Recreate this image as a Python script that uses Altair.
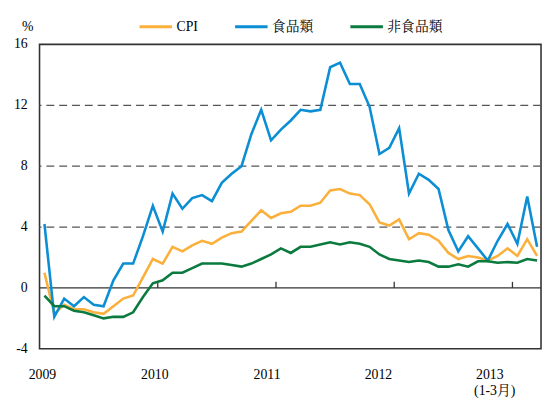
import altair as alt
import pandas as pd

# Monthly observations, Jan 2009 (index 0) .. Mar 2013 (index 50)
months = list(range(51))
series_names = ["CPI", "食品類", "非食品類"]

cpi = [1.0, -1.7, -1.1, -1.4, -1.4, -1.6, -1.7, -1.2, -0.7, -0.5,
       0.7, 1.9, 1.6, 2.7, 2.4, 2.8, 3.1, 2.9, 3.3, 3.6,
       3.7, 4.4, 5.1, 4.6, 4.9, 5.0, 5.4, 5.4, 5.6, 6.4,
       6.5, 6.2, 6.1, 5.5, 4.3, 4.1, 4.5, 3.2, 3.6, 3.5,
       3.1, 2.3, 1.9, 2.1, 2.0, 1.8, 2.1, 2.6, 2.1, 3.2, 2.1]
food = [4.2, -1.9, -0.7, -1.2, -0.6, -1.1, -1.2, 0.5, 1.6, 1.6,
        3.4, 5.4, 3.7, 6.2, 5.2, 5.9, 6.1, 5.7, 6.9, 7.5,
        8.0, 10.1, 11.7, 9.7, 10.4, 11.0, 11.7, 11.6, 11.7, 14.5,
        14.8, 13.4, 13.4, 11.9, 8.8, 9.2, 10.5, 6.2, 7.5, 7.1,
        6.5, 3.8, 2.4, 3.4, 2.6, 1.8, 3.1, 4.2, 2.9, 6.0, 2.7]
nonfood = [-0.5, -1.2, -1.2, -1.5, -1.6, -1.8, -2.0, -1.9, -1.9, -1.6,
           -0.6, 0.3, 0.5, 1.0, 1.0, 1.3, 1.6, 1.6, 1.6, 1.5,
           1.4, 1.6, 1.9, 2.2, 2.6, 2.3, 2.7, 2.7, 2.85, 3.0,
           2.85, 3.0, 2.9, 2.7, 2.2, 1.9, 1.8, 1.7, 1.8, 1.7,
           1.4, 1.4, 1.55, 1.4, 1.75, 1.75, 1.65, 1.7, 1.65, 1.9, 1.8]

colors = ["#FBB03B", "#0B8ED3", "#0A7A3E"]
y_ticks = [-4, 0, 4, 8, 12, 16]
y_tick_labels = ["-4", "0", "4", "8", "12", "16"]
grid_values = [4, 8, 12]
year_labels = ["2009", "2010", "2011", "2012", "2013"]
year_label_pos = [-0.2, 11.2, 22.6, 33.9, 45.2]
year_breaks = [11.5, 23.5, 35.5, 47.5]
note_label = ["(1-3月)"]
note_pos = [45.7]
unit_label = ["%"]

FONT = "Liberation Serif, 'Noto Serif CJK TC', 'Noto Sans CJK TC', serif"

df = pd.DataFrame({
    "month": months * 3,
    "value": cpi + food + nonfood,
    "series": [series_names[0]] * 51 + [series_names[1]] * 51 + [series_names[2]] * 51,
})

x_scale = alt.Scale(domain=[-0.5, 50.4], nice=False, zero=False)
y_scale = alt.Scale(domain=[-4, 16], nice=False, zero=False)

grid = alt.Chart(pd.DataFrame({"g": grid_values})).mark_rule(
    color="#555555", strokeWidth=1.3, strokeDash=[8, 5]
).encode(y=alt.Y("g:Q", scale=y_scale, axis=None))

zero = alt.Chart(pd.DataFrame({"z": [0]})).mark_rule(
    color="#333333", strokeWidth=1.3
).encode(y=alt.Y("z:Q", scale=y_scale, axis=None))

yticks = alt.Chart(pd.DataFrame({"b": year_breaks, "t0": [0] * 4, "t1": [0.4] * 4})).mark_rule(
    color="#333333", strokeWidth=1.3
).encode(
    x=alt.X("b:Q", scale=x_scale, axis=None),
    y=alt.Y("t0:Q", scale=y_scale, axis=None),
    y2="t1:Q",
)

lines = alt.Chart(df).mark_line(strokeWidth=2.6).encode(
    x=alt.X("month:Q", scale=x_scale, axis=None),
    y=alt.Y("value:Q", scale=y_scale, axis=None),
    color=alt.Color("series:N", scale=alt.Scale(domain=series_names, range=colors),
                    legend=alt.Legend(
                        orient="none", legendX=100, legendY=-36, direction="horizontal",
                        title=None, symbolType="stroke", symbolSize=1089,
                        symbolStrokeWidth=3, labelFont=FONT, labelFontSize=14,
                        labelColor="#000000", columnPadding=31, labelOffset=3,
                    )),
)

ylabels = alt.Chart(pd.DataFrame({"v": y_ticks, "label": y_tick_labels})).mark_text(
    font=FONT, fontSize=14, baseline="middle", align="right", color="#000000"
).encode(x=alt.value(-12), y=alt.Y("v:Q", scale=y_scale, axis=None), text="label:N")

unit = alt.Chart(pd.DataFrame({"label": unit_label})).mark_text(
    font=FONT, fontSize=14, baseline="middle", align="center", color="#000000"
).encode(x=alt.value(-12), y=alt.value(-18), text="label:N")

years = alt.Chart(pd.DataFrame({"pos": year_label_pos, "label": year_labels})).mark_text(
    font=FONT, fontSize=14, baseline="middle", align="center", color="#000000"
).encode(x=alt.X("pos:Q", scale=x_scale, axis=None), y=alt.value(336), text="label:N")

note = alt.Chart(pd.DataFrame({"pos": note_pos, "label": note_label})).mark_text(
    font=FONT, fontSize=14, baseline="middle", align="center", color="#000000"
).encode(x=alt.X("pos:Q", scale=x_scale, axis=None), y=alt.value(352), text="label:N")

chart = alt.layer(grid, zero, yticks, lines, ylabels, unit, years, note).properties(
    width=509, height=309,
    autosize=alt.AutoSizeParams(type="none"),
    padding={"left": 32, "top": 34, "right": 1, "bottom": 48},
).configure_view(stroke="#333333", strokeWidth=1.6)

chart.save("out.html", embed_options={"renderer": "svg", "actions": False})
